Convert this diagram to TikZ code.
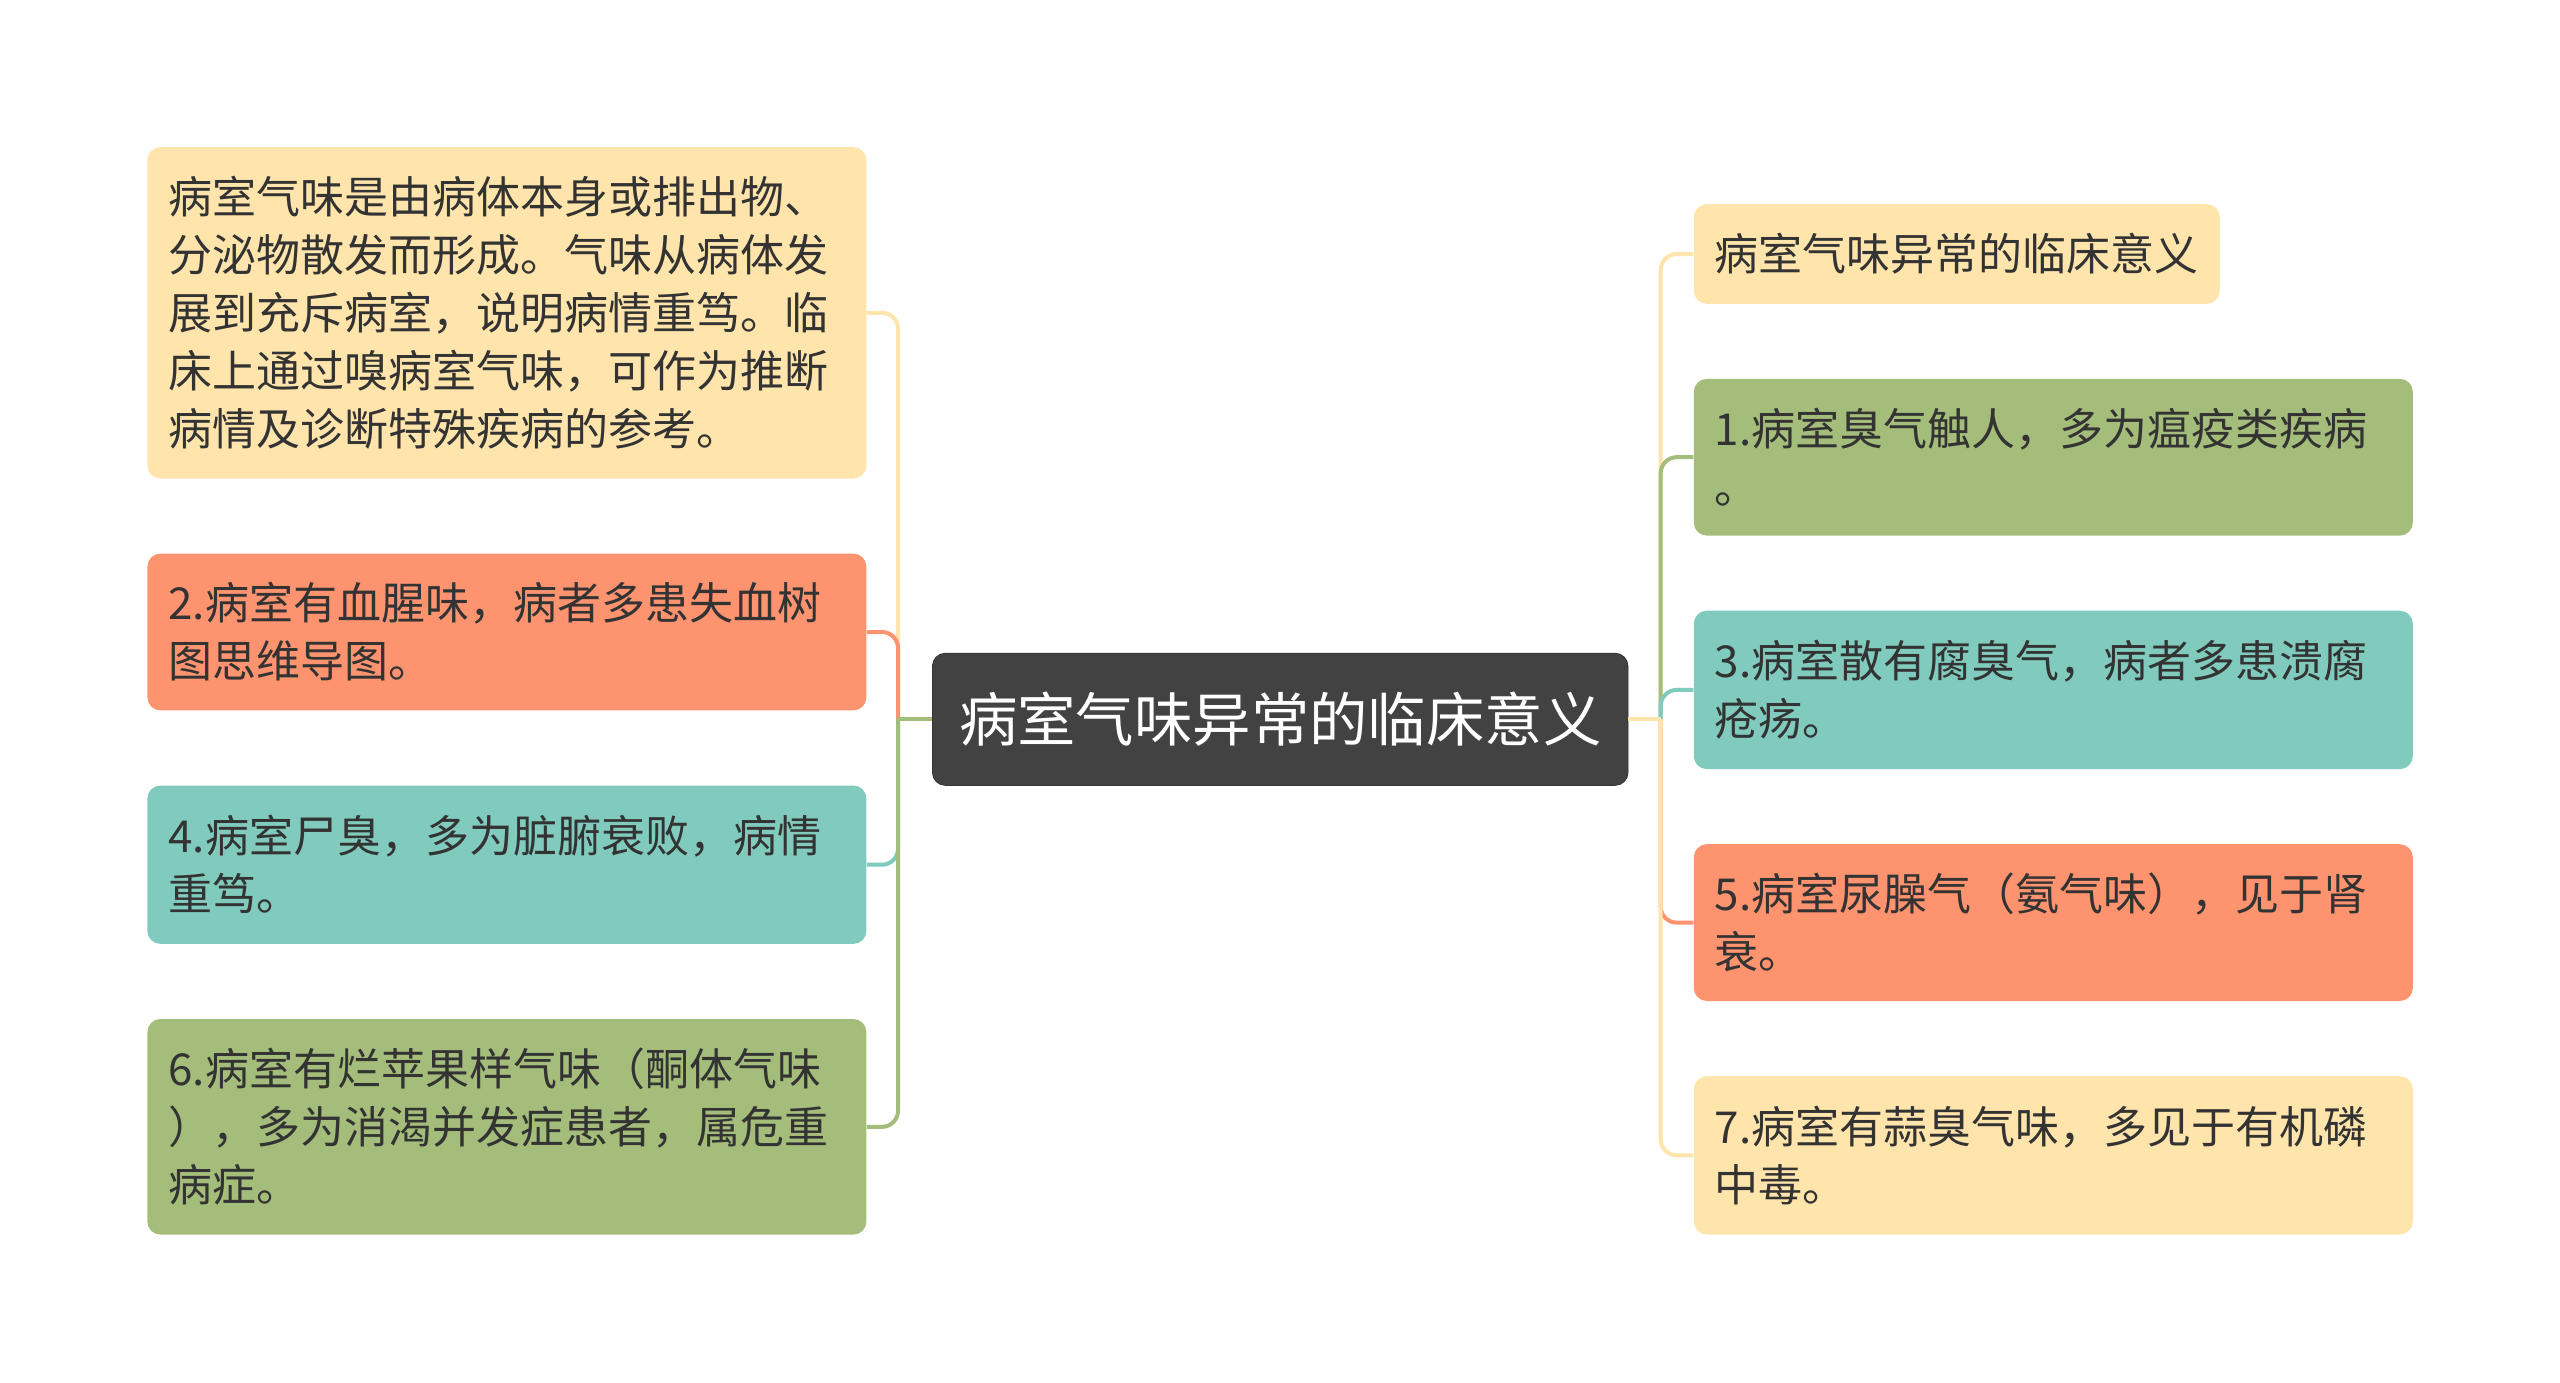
\documentclass[tikz,border=0pt]{standalone}
\usepackage{fontspec}
\setmainfont{Noto Sans CJK SC}

\definecolor{boxyellow}{HTML}{FFE4AB}
\definecolor{boxorange}{HTML}{FE936F}
\definecolor{boxteal}{HTML}{80CBBD}
\definecolor{boxgreen}{HTML}{A5BD7A}
\definecolor{rootgray}{HTML}{424242}
\definecolor{inkdark}{HTML}{333333}

\tikzset{
  topic/.style={fill=rootgray, draw=rootgray!80!black, rounded corners=6.5pt,
    minimum width=347.8pt, minimum height=66.1pt, inner sep=0pt,
    text=white, font=\fontsize{29.2}{34}\selectfont},
  tag/.style={rounded corners=6.5pt, inner xsep=10.5pt, inner ysep=0pt,
    align=left, text=inkdark, anchor=west,
    font=\fontsize{22}{29}\selectfont},
  leaf/.style={tag, text width=338.5pt},
  link/.style={line width=2pt, rounded corners=8pt},
}

\begin{document}
\begin{tikzpicture}[x=0.5pt,y=0.5pt]
    \useasboundingbox (0,0) rectangle (2560,-1382);
    \node[topic] (root) at (1280.2,-719.3) {病室气味异常的临床意义};
    % left side
    \node[leaf, fill=boxyellow, minimum height=165.7pt] (origin) at (147,-312.8)
        {病室气味是由病体本身或排出物、\\分泌物散发而形成。气味从病体发\\展到充斥病室，说明病情重笃。临\\床上通过嗅病室气味，可作为推断\\病情及诊断特殊疾病的参考。};
    \node[leaf, fill=boxorange, minimum height=78.4pt] (blood) at (147,-632)
        {2.病室有血腥味，病者多患失血树\\图思维导图。};
    \node[leaf, fill=boxteal, minimum height=79.2pt] (corpse) at (147,-864.7)
        {4.病室尸臭，多为脏腑衰败，病情\\重笃。};
    \node[leaf, fill=boxgreen, minimum height=107.8pt] (apple) at (147,-1126.8)
        {6.病室有烂苹果样气味（酮体气味\\），多为消渴并发症患者，属危重\\病症。};
    % right side
    \node[tag, fill=boxyellow, minimum height=49.8pt, minimum width=260.5pt] (title) at (1693.4,-254)
        {病室气味异常的临床意义};
    \node[leaf, fill=boxgreen, minimum height=78.4pt] (plague) at (1693.4,-457.2)
        {1.病室臭气触人，多为瘟疫类疾病\\。};
    \node[leaf, fill=boxteal, minimum height=79.2pt] (ulcer) at (1693.4,-689.9)
        {3.病室散有腐臭气，病者多患溃腐\\疮疡。};
    \node[leaf, fill=boxorange, minimum height=78.4pt] (urine) at (1693.4,-922.6)
        {5.病室尿臊气（氨气味），见于肾\\衰。};
    \node[leaf, fill=boxyellow, minimum height=79.2pt] (garlic) at (1693.4,-1155.3)
        {7.病室有蒜臭气味，多见于有机磷\\中毒。};
    % connectors
    \coordinate (ltrunk) at (898,-719.3);
    \coordinate (rtrunk) at (1660.7,-719.3);
    \draw[link, boxyellow] (ltrunk) |- (origin.east);
    \draw[link, boxorange] (ltrunk) |- (blood.east);
    \draw[link, boxteal] (ltrunk) |- (corpse.east);
    \draw[link, boxgreen] (ltrunk) |- (apple.east);
    \draw[link, boxgreen] (root.west) -- (ltrunk);
    \draw[link, boxyellow] (rtrunk) |- (title.west);
    \draw[link, boxgreen] (rtrunk) |- (plague.west);
    \draw[link, boxteal] (rtrunk) |- (ulcer.west);
    \draw[link, boxorange] (rtrunk) |- (urine.west);
    \draw[link, boxyellow] (rtrunk) |- (garlic.west);
    \draw[link, boxyellow] (root.east) -- (rtrunk);
\end{tikzpicture}
\end{document}
